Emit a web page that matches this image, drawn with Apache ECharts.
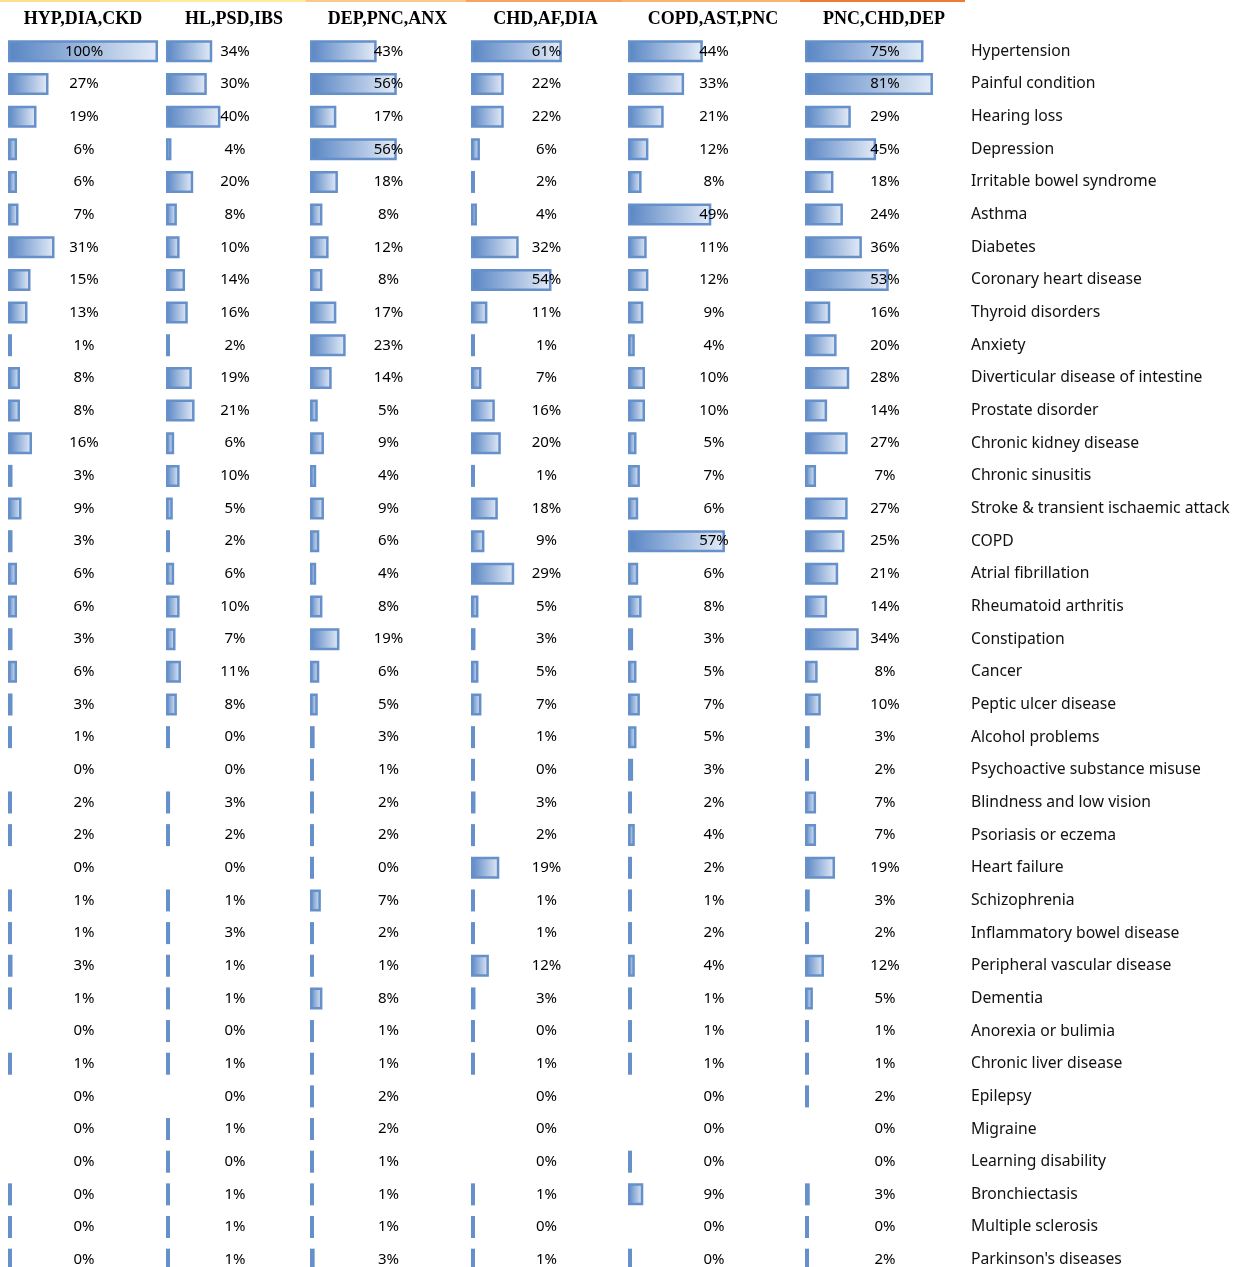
<!DOCTYPE html>
<html>
<head>
<meta charset="utf-8">
<script src="https://cdn.jsdelivr.net/npm/echarts@6/dist/echarts.min.js"></script>
<style>
html,body{margin:0;padding:0;background:#fff;}
#chart{width:1238px;height:1267px;}
</style>
</head>
<body>
<div id="chart"></div>
<script>
// row names, top to bottom
var conditions=['Hypertension','Painful condition','Hearing loss','Depression','Irritable bowel syndrome',
	'Asthma','Diabetes','Coronary heart disease','Thyroid disorders','Anxiety',
	'Diverticular disease of intestine','Prostate disorder','Chronic kidney disease','Chronic sinusitis',
	'Stroke & transient ischaemic attack','COPD','Atrial fibrillation','Rheumatoid arthritis','Constipation',
	'Cancer','Peptic ulcer disease','Alcohol problems','Psychoactive substance misuse','Blindness and low vision',
	'Psoriasis or eczema','Heart failure','Schizophrenia','Inflammatory bowel disease','Peripheral vascular disease',
	'Dementia','Anorexia or bulimia','Chronic liver disease','Epilepsy','Migraine','Learning disability',
	'Bronchiectasis','Multiple sclerosis',"Parkinson's diseases"];
var headers=['HYP,DIA,CKD','HL,PSD,IBS','DEP,PNC,ANX','CHD,AF,DIA','COPD,AST,PNC','PNC,CHD,DEP'];

// percent of patients in each cluster (0.4 = shown as 0% but has a tiny bar)
var hypDiaCkd=[100,27,19,6,6,7,31,15,13,1,8,8,16,3,9,3,6,6,3,6,3,1,0,2,2,0,1,1,3,1,0,1,0,0,0,0.4,0.4,0.4];
var hlPsdIbs=[34,30,40,4,20,8,10,14,16,2,19,21,6,10,5,2,6,10,7,11,8,0.4,0,3,2,0,1,3,1,1,0.4,1,0,1,0.4,1,1,1];
var depPncAnx=[43,56,17,56,18,8,12,8,17,23,14,5,9,4,9,6,4,8,19,6,5,3,1,2,2,0.4,7,2,1,8,1,1,2,2,1,1,1,3];
var chdAfDia=[61,22,22,6,2,4,32,54,11,1,7,16,20,1,18,9,29,5,3,5,7,1,0.4,3,2,19,1,1,12,3,0.4,1,0,0,0,1,0.4,1];
var copdAstPnc=[44,33,21,12,8,49,11,12,9,4,10,10,5,7,6,57,6,8,3,5,7,5,3,2,4,2,1,2,4,1,1,1,0,0,0.4,9,0,0.4];
var pncChdDep=[75,81,29,45,18,24,36,53,16,20,28,14,27,7,27,25,21,14,34,8,10,3,2,7,7,19,3,2,12,5,1,1,2,0,0,3,0.4,2];
var columns=[hypDiaCkd,hlPsdIbs,depPncAnx,chdAfDia,copdAstPnc,pncChdDep];

var lefts=[8,166,310,471,628,805];
var widths=[150,136,155,149,170,158];
var topColors=['#fee08f','#ffeb9c','#f9c98a','#f4a45f','#f8b56c','#ed7d31'];
var segEdges=[0,160,306,466,622,800,965];

var myChart=echarts.init(document.getElementById('chart'));
var grids=[],xAxes=[],yAxes=[],series=[],graphics=[];
for(var i=0;i<columns.length;i++){
	grids.push({left:lefts[i],width:widths[i],top:35,height:1241,outerBoundsMode:'none'});
	xAxes.push({
		gridIndex:i,type:'value',min:0,max:100,position:'top',
		name:headers[i],nameLocation:'middle',nameGap:7,
		nameTextStyle:{fontFamily:'Liberation Serif',fontWeight:'bold',fontSize:18,color:'#000'},
		axisLine:{show:false},axisTick:{show:false},axisLabel:{show:false},splitLine:{show:false}
	});
	var last=(i==columns.length-1);
	yAxes.push({
		gridIndex:i,type:'category',data:conditions,inverse:true,
		position:last?'right':'left',
		axisLine:{show:false},axisTick:{show:false},splitLine:{show:false},
		axisLabel:{show:last,margin:8,fontFamily:'Noto Sans',fontSize:15.7,color:'#111',align:'left'}
	});
	series.push({
		type:'bar',xAxisIndex:i,yAxisIndex:i,barWidth:22,barMinHeight:4,
		itemStyle:{
			color:new echarts.graphic.LinearGradient(0,0,1,0,[{offset:0,color:'#5885c4'},{offset:1,color:'#e5ecf7'}]),
			borderColor:'#6590c9',borderWidth:2.5
		},
		label:{
			show:true,position:[widths[i]/2+1,11],align:'center',verticalAlign:'middle',
			fontFamily:'Noto Sans',fontSize:15,color:'#000',
			formatter:function(p){return Math.round(p.value)+'%';}
		},
		data:columns[i].map(function(v){
			return v===0?{value:0,itemStyle:{color:'transparent',borderWidth:0}}:v;
		})
	});
	graphics.push({type:'rect',shape:{x:segEdges[i],y:0,width:segEdges[i+1]-segEdges[i],height:2},style:{fill:topColors[i]},silent:true});
}

var option={
	backgroundColor:'#fff',
	animation:false,
	grid:grids,
	xAxis:xAxes,
	yAxis:yAxes,
	series:series,
	graphic:graphics
};
myChart.setOption(option);
</script>
</body>
</html>
